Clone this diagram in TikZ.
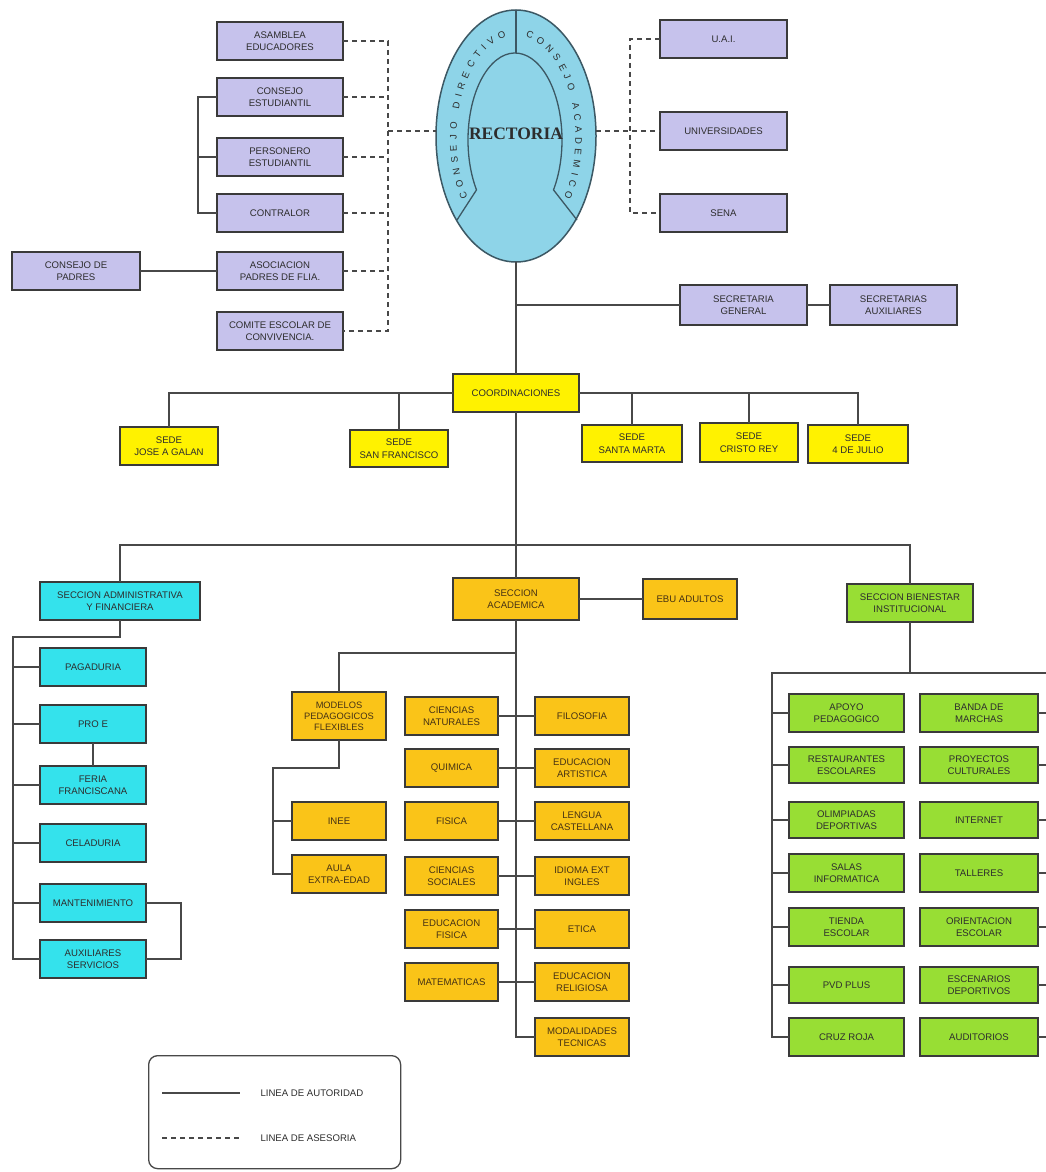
\documentclass[tikz,border=0pt]{standalone}
\usepackage{fontspec}
\newfontfamily\lsans{Liberation Sans}
\newfontfamily\lserif{Liberation Serif}
\usetikzlibrary{shapes.geometric,decorations.text}
\definecolor{cpur}{RGB}{198,194,236}
\definecolor{cell}{RGB}{142,212,232}
\definecolor{eline}{RGB}{60,88,100}
\definecolor{cyel}{RGB}{255,242,0}
\definecolor{cgold}{RGB}{250,196,24}
\definecolor{ccya}{RGB}{52,226,236}
\definecolor{cgrn}{RGB}{152,222,52}
\definecolor{bline}{RGB}{58,58,58}
\definecolor{cline}{RGB}{72,72,72}
\definecolor{btext}{RGB}{45,45,45}
\definecolor{gtext}{RGB}{70,50,20}
\newcommand\bxfont{\lsans\fontsize{9.6}{12.5}\selectfont}
\newcommand\bandfont{\lsans\fontsize{9.5}{9.5}\selectfont}
\newcommand\mkbox[7]{\node[#1, minimum width=#4pt-#2pt, minimum height=#5pt-#3pt] (#6) at (#2,-#3) {#7};}
\begin{document}
\begin{tikzpicture}[x=1pt,y=1pt,
  bx/.style={draw=bline, line width=1.6pt, inner sep=0pt, outer sep=0pt, align=center, font=\bxfont, text=btext, anchor=north west},
  pur/.style={bx, fill=cpur},
  yel/.style={bx, fill=cyel},
  gold/.style={bx, fill=cgold, text=gtext},
  cya/.style={bx, fill=ccya},
  grn/.style={bx, fill=cgrn},
  auth/.style={draw=cline, line width=2pt},
  adv/.style={draw=cline, line width=2pt, dash pattern=on 5pt off 4pt}]
\path[fill=white] (0,0) rectangle (1046,-1172);
\useasboundingbox (0,0) rectangle (1046,-1172);

% ---------- RECTORIA ellipse ----------
\node[draw=eline, line width=1.5pt, fill=cell, ellipse, inner sep=0pt, outer sep=0pt,
      minimum width=160pt, minimum height=252pt] (rec) at (516,-136) {};
\draw[draw=eline, line width=1.3pt] (457,-220) -- (476.5,-189.9)
   arc[start angle=215, end angle=-35, x radius=47, y radius=87] -- (577,-220);
\draw[draw=eline, line width=1.3pt] (rec.north) -- ++(0,-43);
\node[font=\lserif\bfseries\fontsize{17.5}{17.5}\selectfont, text=btext] (rectxt) at (516,-134) {RECTORIA};
\path[decorate, decoration={text along path, text={|\bandfont\color{btext}|CONSEJO DIRECTIVO},
      text align={fit to path}, raise=-3.5pt}]
   (464.4,-198.8) arc[start angle=215, end angle=100, x radius=63, y radius=106];
\path[decorate, decoration={text along path, text={|\bandfont\color{btext}|CONSEJO ACADEMICO},
      text align={fit to path}, raise=-3.5pt}]
   (526.9,-33.6) arc[start angle=80, end angle=-35, x radius=63, y radius=106];

% ---------- purple boxes ----------
\mkbox{pur}{217}{22}{343}{60}{ase}{ASAMBLEA\\EDUCADORES}
\mkbox{pur}{217}{78}{343}{116}{ces}{CONSEJO\\ESTUDIANTIL}
\mkbox{pur}{217}{138}{343}{176}{per}{PERSONERO\\ESTUDIANTIL}
\mkbox{pur}{217}{194}{343}{232}{con}{CONTRALOR}
\mkbox{pur}{217}{252}{343}{290}{aso}{ASOCIACION\\PADRES DE FLIA.}
\mkbox{pur}{217}{312}{343}{350}{com}{COMITE ESCOLAR DE\\CONVIVENCIA.}
\mkbox{pur}{12}{252}{140}{290}{cpa}{CONSEJO DE\\PADRES}
\mkbox{pur}{660}{20}{787}{58}{uai}{U.A.I.}
\mkbox{pur}{660}{112}{787}{150}{uni}{UNIVERSIDADES}
\mkbox{pur}{660}{194}{787}{232}{sena}{SENA}
\mkbox{pur}{680}{285}{807}{325}{sg}{SECRETARIA\\GENERAL}
\mkbox{pur}{830}{285}{957}{325}{sa}{SECRETARIAS\\AUXILIARES}

% ---------- yellow ----------
\mkbox{yel}{453}{374}{579}{412}{coord}{COORDINACIONES}
\mkbox{yel}{120}{427}{218}{465}{s1}{SEDE\\JOSE A GALAN}
\mkbox{yel}{350}{430}{448}{467}{s2}{SEDE\\SAN FRANCISCO}
\mkbox{yel}{582}{425}{682}{462}{s3}{SEDE\\SANTA MARTA}
\mkbox{yel}{700}{423}{798}{462}{s4}{SEDE\\CRISTO REY}
\mkbox{yel}{808}{425}{908}{463}{s5}{SEDE\\4 DE JULIO}

% ---------- sections ----------
\mkbox{cya}{40}{582}{200}{620}{saf}{SECCION ADMINISTRATIVA\\Y FINANCIERA}
\mkbox{gold}{453}{578}{579}{620}{sac}{SECCION\\ACADEMICA}
\mkbox{gold}{643}{579}{737}{619}{ebu}{EBU ADULTOS}
\mkbox{grn}{847}{584}{973}{622}{sbi}{SECCION BIENESTAR\\INSTITUCIONAL}

% ---------- cyan ----------
\mkbox{cya}{40}{648}{146}{686}{pag}{PAGADURIA}
\mkbox{cya}{40}{705}{146}{743}{pro}{PRO E}
\mkbox{cya}{40}{766}{146}{804}{fer}{FERIA\\FRANCISCANA}
\mkbox{cya}{40}{824}{146}{862}{cel}{CELADURIA}
\mkbox{cya}{40}{884}{146}{922}{man}{MANTENIMIENTO}
\mkbox{cya}{40}{940}{146}{978}{aux}{AUXILIARES\\SERVICIOS}

% ---------- gold ----------
\mkbox{gold,font=\lsans\fontsize{9.3}{11}\selectfont}{292}{692}{386}{740}{mod}{MODELOS\\PEDAGOGICOS\\FLEXIBLES}
\mkbox{gold}{292}{802}{386}{840}{inee}{INEE}
\mkbox{gold}{292}{855}{386}{893}{aula}{AULA\\EXTRA-EDAD}
\mkbox{gold}{405}{697}{498}{735}{cn}{CIENCIAS\\NATURALES}
\mkbox{gold}{405}{749}{498}{787}{qui}{QUIMICA}
\mkbox{gold}{405}{802}{498}{840}{fis}{FISICA}
\mkbox{gold}{405}{857}{498}{895}{cs}{CIENCIAS\\SOCIALES}
\mkbox{gold}{405}{910}{498}{948}{ef}{EDUCACION\\FISICA}
\mkbox{gold}{405}{963}{498}{1001}{mat}{MATEMATICAS}
\mkbox{gold}{535}{697}{629}{735}{fil}{FILOSOFIA}
\mkbox{gold}{535}{749}{629}{787}{art}{EDUCACION\\ARTISTICA}
\mkbox{gold}{535}{802}{629}{840}{len}{LENGUA\\CASTELLANA}
\mkbox{gold}{535}{857}{629}{895}{ing}{IDIOMA EXT\\INGLES}
\mkbox{gold}{535}{910}{629}{948}{eti}{ETICA}
\mkbox{gold}{535}{963}{629}{1001}{rel}{EDUCACION\\RELIGIOSA}
\mkbox{gold}{535}{1018}{629}{1056}{mt}{MODALIDADES\\TECNICAS}

% ---------- green ----------
\mkbox{grn}{789}{694}{904}{732}{g1}{APOYO\\PEDAGOGICO}
\mkbox{grn}{789}{747}{904}{783}{g2}{RESTAURANTES\\ESCOLARES}
\mkbox{grn}{789}{802}{904}{838}{g3}{OLIMPIADAS\\DEPORTIVAS}
\mkbox{grn}{789}{854}{904}{892}{g4}{SALAS\\INFORMATICA}
\mkbox{grn}{789}{908}{904}{946}{g5}{TIENDA\\ESCOLAR}
\mkbox{grn}{789}{967}{904}{1003}{g6}{PVD PLUS}
\mkbox{grn}{789}{1018}{904}{1056}{g7}{CRUZ ROJA}
\mkbox{grn}{920}{694}{1038}{732}{h1}{BANDA DE\\MARCHAS}
\mkbox{grn}{920}{747}{1038}{783}{h2}{PROYECTOS\\CULTURALES}
\mkbox{grn}{920}{802}{1038}{838}{h3}{INTERNET}
\mkbox{grn}{920}{854}{1038}{892}{h4}{TALLERES}
\mkbox{grn}{920}{908}{1038}{946}{h5}{ORIENTACION\\ESCOLAR}
\mkbox{grn}{920}{967}{1038}{1003}{h6}{ESCENARIOS\\DEPORTIVOS}
\mkbox{grn}{920}{1018}{1038}{1056}{h7}{AUDITORIOS}

% ---------- coordinates ----------
\coordinate (lb) at (388,-131);
\coordinate (rb) at (630,-131);
\coordinate (sb) at (516,-545);
\coordinate (cb) at (13,-637);
\coordinate (ab) at (516,-653);
\coordinate (mb) at (273,-768);
\coordinate (gb) at (772,-673);
\coordinate (ge) at (1046,-673);

% ---------- advisory (dashed) ----------
\draw[adv] (ase.east) -- (ase.east -| lb) -- (com.east -| lb) -- (com.east);
\foreach \n in {ces,per,con,aso} \draw[adv] (\n.east) -- (\n.east -| lb);
\draw[adv] (lb) -- (lb -| rec.west);
\draw[adv] (rb -| rec.east) -- (uni.west);
\draw[adv] (uai.west) -- (uai.west -| rb) -- (sena.west -| rb) -- (sena.west);

% ---------- authority (solid) ----------
\draw[auth] (ces.west) -- ++(-19,0) |- (con.west);
\draw[auth] (per.west) -- ++(-19,0);
\draw[auth] (cpa.east) -- (aso.west);
\draw[auth] (rec.south) -- (coord.north);
\draw[auth] (sg.west) -- (sg.west -| rec.south);
\draw[auth] (sg.east) -- (sa.west);
\draw[auth] (s1.north) |- (coord.west);
\draw[auth] (s2.north) -- (s2.north |- coord.west);
\draw[auth] (coord.east) -| (s5.north);
\draw[auth] (s3.north) -- (s3.north |- coord.east);
\draw[auth] (s4.north) -- (s4.north |- coord.east);
\draw[auth] (coord.south) -- (sac.north);
\draw[auth] (saf.north) |- (sb) -| (sbi.north);
\draw[auth] (sac.east) -- (ebu.west);
% administrative
\draw[auth] (saf.south) |- (cb) |- (aux.west);
\foreach \n in {pag,pro,fer,cel,man} \draw[auth] (\n.west -| cb) -- (\n.west);
\draw[auth] (pro.south) -- (fer.north);
\draw[auth] (man.east) -- ++(35,0) |- (aux.east);
% academic
\draw[auth] (sac.south) |- (mt.west);
\draw[auth] (ab) -| (mod.north);
\draw[auth] (mod.south) |- (mb) |- (aula.west);
\draw[auth] (mb |- inee.west) -- (inee.west);
\draw[auth] (cn.east) -- (fil.west);
\draw[auth] (qui.east) -- (art.west);
\draw[auth] (fis.east) -- (len.west);
\draw[auth] (cs.east) -- (ing.west);
\draw[auth] (ef.east) -- (eti.west);
\draw[auth] (mat.east) -- (rel.west);
% bienestar
\draw[auth] (sbi.south) -- (sbi.south |- gb);
\draw[auth] (ge) -- (gb) |- (g7.west);
\foreach \n in {g1,g2,g3,g4,g5,g6} \draw[auth] (\n.west -| gb) -- (\n.west);
\foreach \n in {h1,h2,h3,h4,h5,h6,h7} \draw[auth] (\n.east) -- (\n.east -| ge);

% ---------- legend ----------
\node[draw=cline, line width=1.3pt, rounded corners=9pt, minimum width=252pt, minimum height=113pt,
      anchor=north west, inner sep=0pt] (leg) at (148,-1055) {};
\coordinate (la1) at (162,-1093);
\coordinate (la2) at (240,-1093);
\coordinate (lb1) at (162,-1138);
\coordinate (lb2) at (240,-1138);
\draw[auth] (la1) -- (la2);
\draw[adv] (lb1) -- (lb2);
\node[anchor=west, font=\bxfont, text=btext] (lt1) at (257,-1093) {LINEA DE AUTORIDAD};
\node[anchor=west, font=\bxfont, text=btext] (lt2) at (257,-1138) {LINEA DE ASESORIA};
\end{tikzpicture}
\end{document}
